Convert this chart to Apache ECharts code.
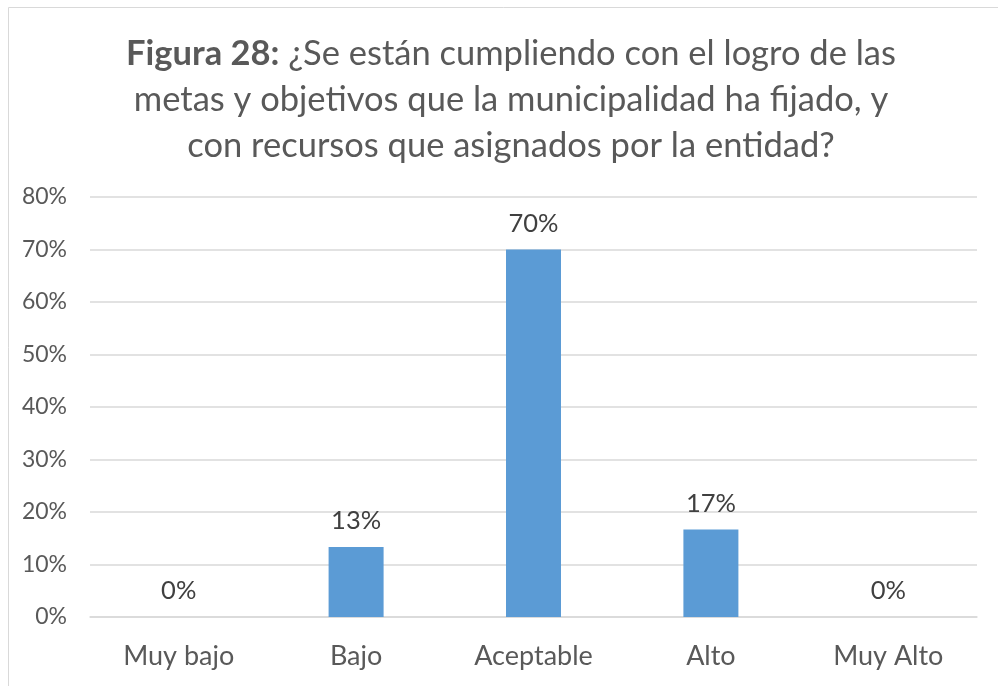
<!DOCTYPE html>
<html><head><meta charset="utf-8">
<script src="https://cdn.jsdelivr.net/npm/echarts@6/dist/echarts.min.js"></script>
<style>html,body{margin:0;padding:0;background:#fff}#c{width:998px;height:686px}</style>
</head><body><div id="c"></div>
<script>
var categories = ["Muy bajo", "Bajo", "Aceptable", "Alto", "Muy Alto"];
var values = [0, 13.33, 70, 16.67, 0];
var yTicks = [0, 10, 20, 30, 40, 50, 60, 70, 80];
var titleBold = "Figura 28:";
var titleLines = ["¿Se están cumpliendo con el logro de las", "metas y objetivos que la municipalidad ha fijado, y", "con recursos que asignados por la entidad?"];

var chart = echarts.init(document.getElementById('c'));
var font = "Lato, 'Liberation Sans', sans-serif";
chart.setOption({
  animation: false,
  graphic: [{type: 'rect', shape: {x: 8.5, y: 7.5, width: 1000, height: 700}, style: {fill: 'none', stroke: '#d9d9d9', lineWidth: 1}}],
  title: {
    text: '{b|' + titleBold + '} ' + titleLines.join('\n'),
    left: 506, top: 26, textAlign: 'center',
    textStyle: {
      fontFamily: font, fontSize: 34.5, fontWeight: 'normal', color: '#595959', lineHeight: 46,
      rich: {b: {fontFamily: font, fontSize: 34.5, fontWeight: 'bold', color: '#595959', lineHeight: 46}}
    }
  },
  grid: {left: 90, right: 21, top: 197, bottom: 69},
  xAxis: {
    type: 'category', data: categories,
    axisLine: {show: true, lineStyle: {color: '#d9d9d9', width: 1.5}},
    axisTick: {show: false},
    axisLabel: {color: '#595959', fontSize: 27, fontFamily: font, margin: 26}
  },
  yAxis: {
    type: 'value', min: yTicks[0], max: yTicks[yTicks.length - 1], interval: 10,
    axisLine: {show: false}, axisTick: {show: false},
    splitLine: {lineStyle: {color: '#d9d9d9', width: 1.5}},
    axisLabel: {color: '#595959', fontSize: 23, fontFamily: font, margin: 23, formatter: function (v) { return v + '%'; }}
  },
  series: [{
    type: 'bar', data: values, barWidth: 55,
    itemStyle: {color: '#5b9bd5'},
    label: {show: true, position: 'top', distance: 13, color: '#404040', fontSize: 25.5, fontFamily: font,
      formatter: function (p) { return Math.round(p.value) + '%'; }}
  }]
});
</script></body></html>
